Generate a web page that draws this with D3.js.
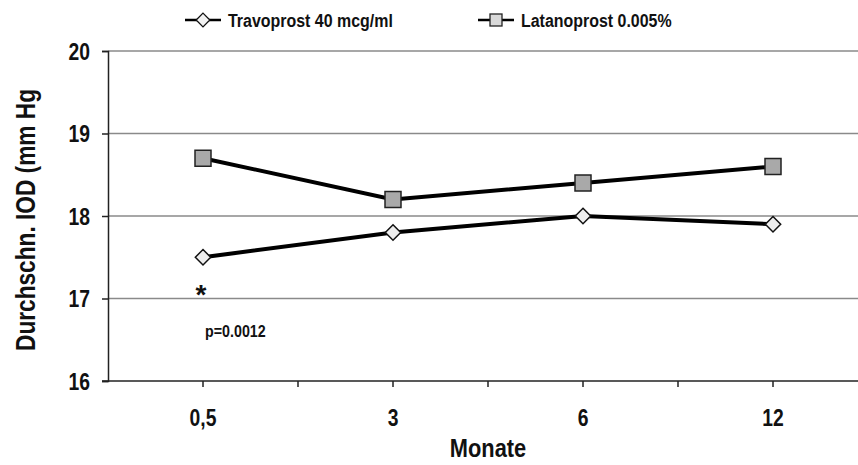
<!DOCTYPE html>
<html>
<head>
<meta charset="utf-8">
<script src="https://cdn.jsdelivr.net/npm/d3@7"></script>
<style>
  body { margin: 0; background: #fff; }
  text { font-family: "Liberation Sans Narrow", "Arial Narrow", "Liberation Sans", sans-serif; font-weight: bold; fill: #111; }
</style>
</head>
<body>
<div id="grafico"></div>
<script>
// Daten
const monate = ["0,5", "3", "6", "12"];
const travoprost = [17.5, 17.8, 18.0, 17.9];
const latanoprost = [18.7, 18.2, 18.4, 18.6];
const yTicks = [16, 17, 18, 19, 20];
const serienNamen = ["Travoprost 40 mcg/ml", "Latanoprost 0.005%"];

const breite = 858, hoehe = 465;
const links = 108, oben = 51, unten = 381;
const schritt = 190;
const schmal = 0.84; // Schrift schmaler machen (keine Narrow-Schrift vorhanden)

const svg = d3.select("#grafico")
  .append("svg")
  .attr("width", breite)
  .attr("height", hoehe);

// Skalen
const x = d3.scalePoint()
  .domain(monate)
  .range([links + schritt / 2, links + schritt * (monate.length - 0.5)]);

const y = d3.scaleLinear()
  .domain([16, 20])
  .range([unten, oben]);

// Gitterlinien
svg.append("g")
  .selectAll("line")
  .data(yTicks.filter(d => d > 16))
  .join("line")
  .attr("x1", links)
  .attr("x2", breite)
  .attr("y1", d => y(d))
  .attr("y2", d => y(d))
  .attr("stroke", "#8a8a8a")
  .attr("stroke-width", 1.5);

// Y-Achse
const yAchse = svg.append("g")
  .attr("transform", `translate(${links},0)`)
  .call(d3.axisLeft(y).tickValues(yTicks).tickFormat(d3.format("d")).tickSize(6).tickPadding(10));
yAchse.select(".domain").attr("stroke", "#222").attr("stroke-width", 1.5);
yAchse.selectAll(".tick line").attr("stroke", "#222").attr("stroke-width", 1.5);
yAchse.selectAll(".tick text")
  .style("font-size", "23px")
  .attr("fill", "#111")
  .attr("x", null)
  .attr("dy", null)
  .attr("transform", `translate(-18,8) scale(${schmal},1)`);

// X-Achse (Striche auf Kategorien und dazwischen)
const xAchse = svg.append("g").attr("transform", `translate(0,${unten})`);
xAchse.append("line")
  .attr("x1", links - 6)
  .attr("x2", breite)
  .attr("stroke", "#222")
  .attr("stroke-width", 1.5);
const striche = d3.range(1, monate.length * 2).map(i => links + i * schritt / 2);
xAchse.selectAll(".strich")
  .data(striche)
  .join("line")
  .attr("class", "strich")
  .attr("x1", d => d)
  .attr("x2", d => d)
  .attr("y1", 0)
  .attr("y2", 6)
  .attr("stroke", "#222")
  .attr("stroke-width", 1.5);
xAchse.selectAll(".beschriftung")
  .data(monate)
  .join("text")
  .attr("class", "beschriftung")
  .attr("transform", d => `translate(${x(d)},45) scale(${schmal},1)`)
  .attr("text-anchor", "middle")
  .style("font-size", "23px")
  .text(d => d);

// Achsentitel
svg.append("text")
  .attr("transform", `translate(${links + schritt * 2},457) scale(${schmal},1)`)
  .attr("text-anchor", "middle")
  .style("font-size", "26px")
  .text("Monate");

svg.append("text")
  .attr("transform", `translate(35,220) rotate(-90) scale(${schmal},1)`)
  .attr("text-anchor", "middle")
  .style("font-size", "27px")
  .text("Durchschn. IOD (mm Hg");

// Linien
const linie = d3.line()
  .x((d, i) => x(monate[i]))
  .y(d => y(d));

[travoprost, latanoprost].forEach(serie => {
  svg.append("path")
    .datum(serie)
    .attr("d", linie)
    .attr("fill", "none")
    .attr("stroke", "#000")
    .attr("stroke-width", 4);
});

// Marker
const raute = d3.symbol().type(d3.symbolDiamond2).size(150);
svg.selectAll(".raute")
  .data(travoprost)
  .join("path")
  .attr("class", "raute")
  .attr("d", raute)
  .attr("transform", (d, i) => `translate(${x(monate[i])},${y(d)})`)
  .attr("fill", "#eeeeee")
  .attr("stroke", "#111")
  .attr("stroke-width", 1.5);

svg.selectAll(".quadrat")
  .data(latanoprost)
  .join("rect")
  .attr("class", "quadrat")
  .attr("x", (d, i) => x(monate[i]) - 8)
  .attr("y", d => y(d) - 8)
  .attr("width", 16)
  .attr("height", 16)
  .attr("fill", "#a9a9a9")
  .attr("stroke", "#222")
  .attr("stroke-width", 1.5);

// Signifikanz
svg.append("text")
  .attr("x", x(monate[0]) - 2)
  .attr("y", 304)
  .attr("text-anchor", "middle")
  .style("font-size", "28px")
  .text("*");

svg.append("text")
  .attr("transform", `translate(205,337) scale(${schmal},1)`)
  .style("font-size", "17px")
  .text("p=0.0012");

// Legende
const legende = svg.append("g");
const legX = [185, 478];
legende.selectAll("line")
  .data(serienNamen)
  .join("line")
  .attr("x1", (d, i) => legX[i])
  .attr("x2", (d, i) => legX[i] + 36)
  .attr("y1", 20)
  .attr("y2", 20)
  .attr("stroke", "#000")
  .attr("stroke-width", 2.5);
legende.append("path")
  .attr("d", d3.symbol().type(d3.symbolDiamond2).size(120))
  .attr("transform", `translate(${legX[0] + 18},20)`)
  .attr("fill", "#f2f2f2")
  .attr("stroke", "#111")
  .attr("stroke-width", 1.3);
legende.append("rect")
  .attr("x", legX[1] + 12)
  .attr("y", 14)
  .attr("width", 12)
  .attr("height", 12)
  .attr("fill", "#d9d9d9")
  .attr("stroke", "#222")
  .attr("stroke-width", 1.3);
legende.selectAll("text")
  .data(serienNamen)
  .join("text")
  .attr("transform", (d, i) => `translate(${legX[i] + 43},27) scale(${schmal},1)`)
  .style("font-size", "19px")
  .text(d => d);
</script>
</body>
</html>
